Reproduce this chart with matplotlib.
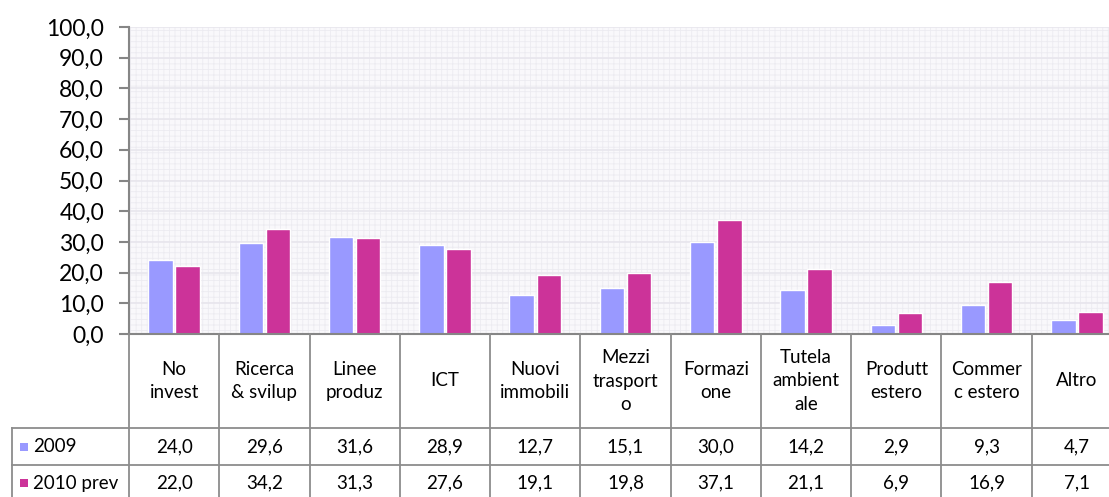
import matplotlib.pyplot as plt
import matplotlib.patches as mpatches

categories = ["No\ninvest", "Ricerca\n& svilup", "Linee\nproduz", "ICT", "Nuovi\nimmobili",
              "Mezzi\ntrasport\no", "Formazi\none", "Tutela\nambient\nale", "Produtt\nestero",
              "Commer\nc estero", "Altro"]
series_names = ["2009", "2010 prev"]
values_2009 = [24.0, 29.6, 31.6, 28.9, 12.7, 15.1, 30.0, 14.2, 2.9, 9.3, 4.7]
values_2010 = [22.0, 34.2, 31.3, 27.6, 19.1, 19.8, 37.1, 21.1, 6.9, 16.9, 7.1]
colors = ["#9999FF", "#CC3399"]

plt.rcParams['font.family'] = ['Lato', 'DejaVu Sans']
plt.rcParams['hatch.color'] = '#ecebf1'
plt.rcParams['hatch.linewidth'] = 0.6

W, H = 1109, 497
fig = plt.figure(figsize=(W / 100, H / 100), dpi=100)

# pixel geometry of the plot area
x_left, x_right = 129, 1122
y_top, y_zero = 27, 334

ax = fig.add_axes([x_left / W, 1 - y_zero / H, (x_right - x_left) / W, (y_zero - y_top) / H])
n = len(categories)
ax.set_xlim(-0.5, n - 0.5)
ax.set_ylim(0, 100)
ax.set_facecolor('#f9f8fb')
bg = mpatches.Rectangle((0, 0), 1, 1, transform=ax.transAxes, facecolor='none',
                        hatch='+++', edgecolor='#ecebf1', linewidth=0, zorder=0)
ax.add_patch(bg)
ax.yaxis.grid(True, color='#e8e6ed', linewidth=1.2, zorder=0.5)
ax.set_axisbelow(True)

bw = 0.27
gap = 0.015
xs = list(range(n))
ax.bar([x - bw / 2 - gap for x in xs], values_2009, width=bw, color=colors[0],
       edgecolor='white', linewidth=1, zorder=2)
ax.bar([x + bw / 2 + gap for x in xs], values_2010, width=bw, color=colors[1],
       edgecolor='white', linewidth=1, zorder=2)

ax.set_yticks(range(0, 101, 10))
ax.set_yticklabels([f"{v},0" for v in range(0, 101, 10)], fontsize=16.5)
ax.set_xticks([])
for s in ['top', 'right']:
    ax.spines[s].set_visible(False)
for s in ['left', 'bottom']:
    ax.spines[s].set_color('#868686')
    ax.spines[s].set_linewidth(1.5)
ax.tick_params(axis='y', length=7, width=1.5, color='#868686', pad=11)

# data table below the plot
tab = fig.add_axes([x_left / W, 0, (x_right - x_left) / W, (H - y_zero) / H])
tab.set_xlim(-0.5, n - 0.5)
tab.set_ylim(H, y_zero)
tab.axis('off')
line_kw = dict(color='#8c8c8c', linewidth=1.3, clip_on=False)
x_tab_left = -0.5 - (x_left - 12) / ((x_right - x_left) / n)
row1, row2 = 428, 465
for k in range(n + 1):
    tab.plot([k - 0.5, k - 0.5], [y_zero, H], **line_kw)
tab.plot([x_tab_left, x_tab_left], [row1, H], **line_kw)
tab.plot([x_tab_left, n - 0.5], [row1, row1], **line_kw)
tab.plot([x_tab_left, n - 0.5], [row2, row2], **line_kw)

fs = 13.5
for i, cat in enumerate(categories):
    tab.text(i, (y_zero + row1) / 2, cat, ha='center', va='center', fontsize=fs,
             linespacing=1.45, clip_on=False)
    tab.text(i, (row1 + row2) / 2, f"{values_2009[i]:.1f}".replace('.', ','),
             ha='center', va='center', fontsize=fs)
    tab.text(i, (row2 + H) / 2 + 2, f"{values_2010[i]:.1f}".replace('.', ','),
             ha='center', va='center', fontsize=fs)

px = (x_right - x_left) / n
for j, (name, col) in enumerate(zip(series_names, colors)):
    yc = (row1 + row2) / 2 if j == 0 else (row2 + H) / 2 + 2
    sq = mpatches.Rectangle((x_tab_left + 8 / px, yc - 4), 8 / px, 8, facecolor=col,
                            edgecolor='none', clip_on=False)
    tab.add_patch(sq)
    tab.text(x_tab_left + 21 / px, yc, name, ha='left', va='center', fontsize=fs,
             clip_on=False)

fig.savefig("out.png", dpi=100)
